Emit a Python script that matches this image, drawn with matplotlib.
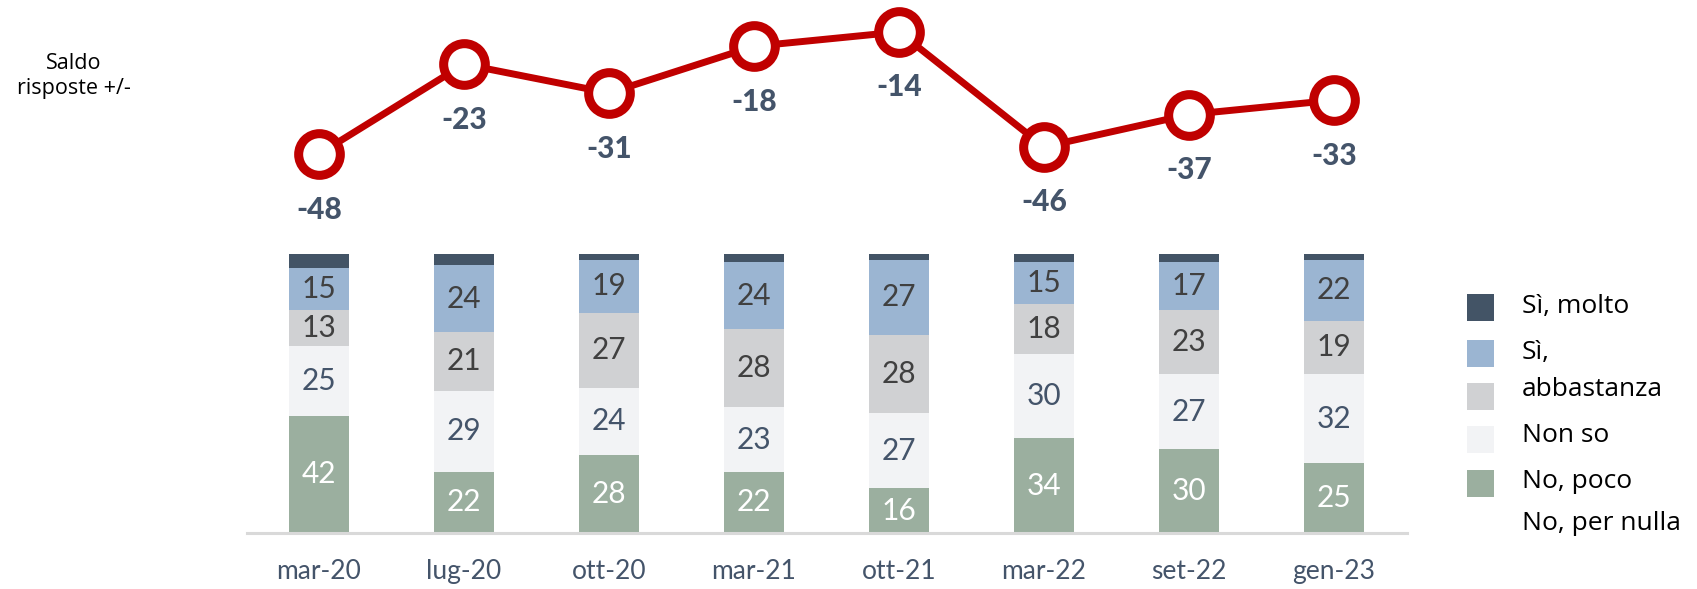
import matplotlib
matplotlib.use("Agg")
import matplotlib.pyplot as plt
from matplotlib.patches import Rectangle
import numpy as np

categories = ['mar-20', 'lug-20', 'ott-20', 'mar-21', 'ott-21', 'mar-22', 'set-22', 'gen-23']
no_per_nulla = [42, 22, 28, 22, 16, 34, 30, 25]
no_poco = [25, 29, 24, 23, 27, 30, 27, 32]
non_so = [13, 21, 27, 28, 28, 18, 23, 19]
si_abbastanza = [15, 24, 19, 24, 27, 15, 17, 22]
si_molto = [5, 4, 2, 3, 2, 3, 3, 2]
saldo = [-48, -23, -31, -18, -14, -46, -37, -33]

legend_labels = ['Sì, molto', 'Sì,', 'abbastanza', 'Non so', 'No, poco', 'No, per nulla']

C_MOLTO = '#435466'
C_ABB = '#9BB5D2'
C_NONSO = '#D0D1D3'
C_POCO = '#F2F3F5'
C_NULLA = '#9BAF9F'
C_RED = '#C00000'
C_TXT = '#44546A'
C_TXT2 = '#404040'

W, H = 1697, 589
fig = plt.figure(figsize=(W / 100, H / 100), dpi=100)

FONT = 'Lato'
LEG_FONT = ['Open Sans', 'DejaVu Sans']

def fx(px):
    return px / W

def fy(py):
    return 1 - py / H

# bar axes
ax = fig.add_axes([fx(246.5), fy(533), fx(1160), 279 / H])
x = np.arange(len(categories))
bw = 0.407
series = [
    (no_per_nulla, C_NULLA, 'white'),
    (no_poco, C_POCO, C_TXT),
    (non_so, C_NONSO, C_TXT2),
    (si_abbastanza, C_ABB, C_TXT2),
    (si_molto, C_MOLTO, None),
]
bottom = np.zeros(len(categories))
for vals, col, tcol in series:
    vals = np.array(vals, dtype=float)
    ax.bar(x, vals, bw, bottom=bottom, color=col, edgecolor='none', zorder=2)
    if tcol is not None:
        for xi, b, v in zip(x, bottom, vals):
            ax.text(xi, b + v / 2, f"{int(v)}", ha='center', va='center',
                    fontsize=21.5, color=tcol, family=FONT, zorder=3)
    bottom += vals

ax.set_xlim(-0.5, 7.5)
ax.set_ylim(0, 100)
for s in ['top', 'right', 'left']:
    ax.spines[s].set_visible(False)
ax.spines['bottom'].set_color('#D9D9D9')
ax.spines['bottom'].set_linewidth(2.2)
ax.set_yticks([])
ax.set_xticks(x)
ax.set_xticklabels(categories, fontsize=19, color=C_TXT, family=FONT)
ax.tick_params(axis='x', length=0, pad=19)
ax.patch.set_alpha(0)

# line axes
lax = fig.add_axes([fx(246.5), fy(200), fx(1160), 190 / H])
lax.set_xlim(-0.5, 7.5)
lax.set_ylim(-60.81, -7.89)
lax.axis('off')
lax.plot(x, saldo, color=C_RED, lw=5, marker='o', markersize=30,
         markerfacecolor='white', markeredgecolor=C_RED, markeredgewidth=6.5,
         clip_on=False, zorder=3)
for xi, v in zip(x, saldo):
    lax.annotate(f"{v}", (xi, v), xytext=(0, -40), textcoords='offset points',
                 ha='center', va='center', fontsize=21.5, fontweight='black',
                 color=C_TXT, family=FONT)

# Saldo label
fig.text(fx(74), fy(76), "Saldo\nrisposte +/-", ha='center', va='center',
         fontsize=15.5, color='black', family=LEG_FONT, linespacing=1.3)

# legend (manual)
sq_rows = [307, 353, 396, 439, 483]
sq_cols = [C_MOLTO, C_ABB, C_NONSO, C_POCO, C_NULLA]
for yy, col in zip(sq_rows, sq_cols):
    fig.patches.append(Rectangle((fx(1467), fy(yy + 13.5)), fx(27), 27 / H,
                                 transform=fig.transFigure, facecolor=col,
                                 edgecolor='none'))
txt_rows = [307, 353, 389, 435, 482, 524]
for yy, lab in zip(txt_rows, legend_labels):
    fig.text(fx(1522), fy(yy), lab, ha='left', va='center', fontsize=19,
             color='black', family=LEG_FONT)

fig.savefig('out.png', dpi=100, facecolor='white')
